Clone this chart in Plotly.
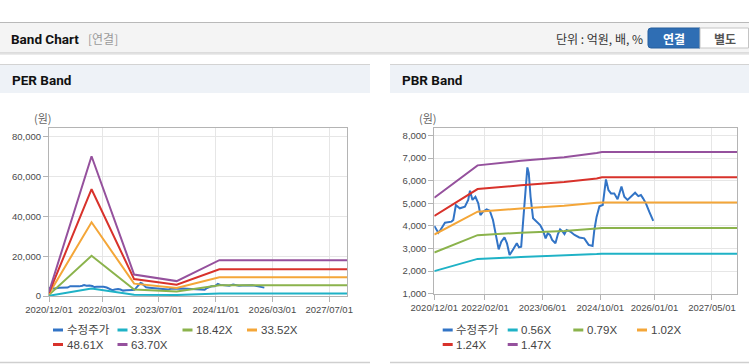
import plotly.graph_objects as go

W, H = 749, 364

# ---------------- data ----------------
price_dates = [
    "2020-12-01", "2021-01-04", "2021-01-18", "2021-03-01", "2021-04-25", "2021-05-10",
    "2021-06-01", "2021-07-04", "2021-08-16", "2021-09-13", "2021-09-28", "2021-10-19",
    "2021-11-13", "2021-12-07", "2021-12-25", "2022-01-16", "2022-02-15", "2022-03-14",
    "2022-04-10", "2022-05-07", "2022-05-28", "2022-06-19", "2022-07-16", "2022-08-06",
    "2022-08-28", "2022-09-24", "2022-10-28", "2022-11-15", "2022-12-04", "2022-12-19",
    "2023-01-10", "2023-01-25", "2023-02-06", "2023-02-21", "2023-03-14", "2023-04-10",
    "2023-05-13", "2023-06-04", "2023-06-28", "2023-07-16", "2023-08-04", "2023-08-22",
    "2023-09-19", "2023-10-10", "2023-10-28", "2023-11-19", "2023-12-04", "2023-12-22",
    "2024-01-22", "2024-02-27", "2024-04-07", "2024-05-19", "2024-06-25", "2024-07-28",
    "2024-08-12", "2024-08-31", "2024-09-24", "2024-10-22", "2024-11-03", "2024-11-18",
    "2024-12-09", "2024-12-31", "2025-01-27", "2025-02-24", "2025-03-29", "2025-04-22",
    "2025-05-19", "2025-06-16", "2025-07-22", "2025-08-18", "2025-09-09", "2025-09-27",
    "2025-10-21", "2025-11-18", "2025-12-22",
]
price_values = [
    4000, 3700, 3790, 4140, 4190, 4260,
    4920, 4780, 4850, 5150, 5560, 5150,
    5290, 5000, 4480, 4630, 4730, 4670,
    4260, 3600, 2960, 3300, 3490, 3230,
    2710, 2930, 3230, 3050, 3080, 4110,
    5810, 6590, 6330, 5290, 4340, 4190,
    4040, 3820, 3450, 3670, 3600, 3380,
    3230, 3640, 3850, 3750, 3640, 3820,
    3750, 3600, 3490, 3450, 3160, 3110,
    3820, 4400, 4870, 4925, 5370, 6060,
    5590, 5440, 5440, 5180, 5740, 5290,
    5150, 5290, 5470, 5320, 5370, 5220,
    5000, 4630, 4220,
]

per_band_dates = ["2020-12-01", "2021-12-01", "2022-12-01", "2023-12-01", "2024-12-01", "2027-12-01"]
per_3_33 = [110, 3800, 650, 500, 1200, 1200]
per_18_42 = [600, 20200, 3300, 2300, 5450, 5450]
per_33_52 = [1100, 37100, 6200, 4000, 9450, 9450]
per_48_61 = [1600, 53700, 8500, 5700, 13450, 13450]
per_63_70 = [2100, 70300, 10800, 7500, 18000, 18000]

pbr_band_dates = ["2020-12-01", "2021-12-01", "2022-12-01", "2023-12-01", "2024-09-01", "2024-10-15", "2027-12-01"]
pbr_0_56 = [2000, 2540, 2620, 2680, 2755, 2770, 2770]
pbr_0_79 = [2820, 3590, 3700, 3780, 3890, 3910, 3910]
pbr_1_02 = [3620, 4630, 4770, 4890, 5020, 5040, 5040]
pbr_1_24 = [4440, 5630, 5800, 5940, 6100, 6150, 6150]
pbr_1_47 = [5250, 6680, 6880, 7040, 7230, 7270, 7270]

per_names = ["수정주가", "3.33X", "18.42X", "33.52X", "48.61X", "63.70X"]
pbr_names = ["수정주가", "0.56X", "0.79X", "1.02X", "1.24X", "1.47X"]
colors = ["#3274c6", "#1fb2c6", "#8bb34c", "#f4a638", "#d8322b", "#95519d"]

per_xticks = ["2020-12-01", "2022-03-01", "2023-07-01", "2024-11-01", "2026-03-01", "2027-07-01"]
per_xlabels = ["2020/12/01", "2022/03/01", "2023/07/01", "2024/11/01", "2026/03/01", "2027/07/01"]
pbr_xticks = ["2020-12-01", "2022-02-01", "2023-06-01", "2024-10-01", "2026-01-01", "2027-05-01"]
pbr_xlabels = ["2020/12/01", "2022/02/01", "2023/06/01", "2024/10/01", "2026/01/01", "2027/05/01"]
per_yticks = [0, 20000, 40000, 60000, 80000]
per_ylabels = ["0", "20,000", "40,000", "60,000", "80,000"]
pbr_yticks = [1000, 2000, 3000, 4000, 5000, 6000, 7000, 8000]
pbr_ylabels = ["1,000", "2,000", "3,000", "4,000", "5,000", "6,000", "7,000", "8,000"]

# ---------------- helpers ----------------
def X(p):
    return p / W

def Y(p):
    return 1 - p / H

LAT = "Liberation Sans, Noto Sans CJK KR, sans-serif"
KR = "Noto Sans CJK KR, Liberation Sans, sans-serif"

fig = go.Figure()

per_series = [per_3_33, per_18_42, per_33_52, per_48_61, per_63_70]
pbr_series = [pbr_0_56, pbr_0_79, pbr_1_02, pbr_1_24, pbr_1_47]

fig.add_trace(go.Scatter(x=price_dates, y=price_values, mode="lines", name=per_names[0],
                         line=dict(color=colors[0], width=2), xaxis="x", yaxis="y", showlegend=False))
for i, s in enumerate(per_series):
    fig.add_trace(go.Scatter(x=per_band_dates, y=s, mode="lines", name=per_names[i + 1],
                             line=dict(color=colors[i + 1], width=2), xaxis="x", yaxis="y", showlegend=False))

fig.add_trace(go.Scatter(x=price_dates, y=price_values, mode="lines", name=pbr_names[0],
                         line=dict(color=colors[0], width=2), xaxis="x2", yaxis="y2", showlegend=False))
for i, s in enumerate(pbr_series):
    fig.add_trace(go.Scatter(x=pbr_band_dates, y=s, mode="lines", name=pbr_names[i + 1],
                             line=dict(color=colors[i + 1], width=2), xaxis="x2", yaxis="y2", showlegend=False))

axis_common = dict(showgrid=True, gridcolor="#e6e6e6", gridwidth=1, showline=True, mirror=True,
                   linecolor="#b4b4b4", linewidth=1, ticks="outside", ticklen=5, tickcolor="#b4b4b4",
                   zeroline=False, automargin=False, fixedrange=True,
                   tickfont=dict(family=LAT, size=9.5, color="#4a4a4a"))

fig.update_layout(
    width=W, height=H, autosize=False, showlegend=False,
    margin=dict(l=0, r=0, t=0, b=0, pad=0, autoexpand=False),
    paper_bgcolor="white", plot_bgcolor="white",
    xaxis=dict(domain=[X(49), X(347)], anchor="y", type="date",
               range=["2020-12-01", "2027-12-01"], tickmode="array", tickangle=0,
               tickvals=per_xticks, ticktext=per_xlabels, **axis_common),
    yaxis=dict(domain=[Y(296), Y(128)], anchor="x", range=[0, 84500], tickmode="array",
               tickvals=per_yticks, ticktext=per_ylabels, **axis_common),
    xaxis2=dict(domain=[X(434.3), X(737.3)], anchor="y2", type="date",
                range=["2020-12-01", "2027-12-01"], tickmode="array", tickangle=0,
                tickvals=pbr_xticks, ticktext=pbr_xlabels, **axis_common),
    yaxis2=dict(domain=[Y(293.7), Y(128.3)], anchor="x2", range=[1000, 8320], tickmode="array",
                tickvals=pbr_yticks, ticktext=pbr_ylabels, **axis_common),
)

shapes = []
annotations = []

def rect(x0, y0, x1, y1, fill, line=None, lw=0):
    shapes.append(dict(type="rect", xref="paper", yref="paper", x0=X(x0), x1=X(x1), y0=Y(y1), y1=Y(y0),
                       fillcolor=fill, line=dict(color=line or fill, width=lw), layer="below"))

def hline(x0, x1, y, color, w=1, layer="below"):
    shapes.append(dict(type="line", xref="paper", yref="paper", x0=X(x0), x1=X(x1), y0=Y(y), y1=Y(y),
                       line=dict(color=color, width=w), layer=layer))

def text(t, x, y, size, color, family=LAT, bold=False, anchor="left"):
    if bold:
        t = "<b>" + t + "</b>"
    annotations.append(dict(text=t, x=X(x), y=Y(y), xref="paper", yref="paper", showarrow=False,
                            xanchor=anchor, yanchor="middle", borderpad=0,
                            font=dict(family=family, size=size, color=color)))

# top header bar
rect(0, 22, W, 53, "#f4f4f4")
hline(0, W, 22.5, "#b9b9b9", 1)
hline(0, W, 53, "#c4c4c4", 1)
hline(0, W, 54.2, "#e2e2e2", 1)
text("Band Chart", 10, 39, 13.5, "#111", family="Roboto, Liberation Sans", bold=True)
text("[연결]", 87, 39, 12, "#9a9a9a", family=KR)
text("단위 : 억원, 배, %", 644, 39, 12, "#333", family=KR, anchor="right")
# buttons
shapes.append(dict(type="path", xref="paper", yref="paper",
                   path=f"M {X(700)},{Y(28)} L {X(651)},{Y(28)} Q {X(648)},{Y(28)} {X(648)},{Y(31)} "
                        f"L {X(648)},{Y(45)} Q {X(648)},{Y(48)} {X(651)},{Y(48)} L {X(700)},{Y(48)} Z",
                   fillcolor="#2f6eb4", line=dict(color="#275f9d", width=1), layer="below"))
rect(700, 28, 748.5, 48, "#ffffff", "#c4c4c4", 1)
text("연결", 674, 38.5, 12, "#ffffff", family=KR, bold=True, anchor="center")
text("별도", 724.5, 38.5, 12, "#555", family=KR, bold=True, anchor="center")

# panel headers and bottoms
for (x0, x1, title, tx) in [(0, 370, "PER Band", 11), (390, 749, "PBR Band", 401)]:
    rect(x0, 64.5, x1, 93, "#eef2f7")
    hline(x0, x1, 64.5, "#d3d3d3", 1)
    hline(x0, x1, 362.5, "#cfcfcf", 1.5)
    text(title, tx, 80, 13.5, "#111", family="Roboto, Liberation Sans", bold=True)

text("(원)", 43, 118, 11, "#666", family=KR, anchor="center")
text("(원)", 428, 118, 11, "#666", family=KR, anchor="center")

# legends
def legend(names, cols, rows):
    pos = [(cols[0], rows[0]), (cols[1], rows[0]), (cols[2], rows[0]), (cols[3], rows[0]),
           (cols[0], rows[1]), (cols[1], rows[1])]
    for i, (nm, (lx, ly)) in enumerate(zip(names, pos)):
        hline(lx, lx + 10, ly, colors[i], 3, layer="above")
        text(nm, lx + 12.5, ly, 11.5, "#444", family=LAT)

legend(per_names, [53, 117.5, 182.5, 247], [330, 344.5])
legend(pbr_names, [442.7, 507.7, 573.3, 637], [330, 344.5])

fig.update_layout(shapes=shapes, annotations=annotations)

fig.write_html("out.html", config={"displayModeBar": False, "responsive": False},
               post_script="document.body.style.margin='0';document.body.style.overflow='hidden';")
